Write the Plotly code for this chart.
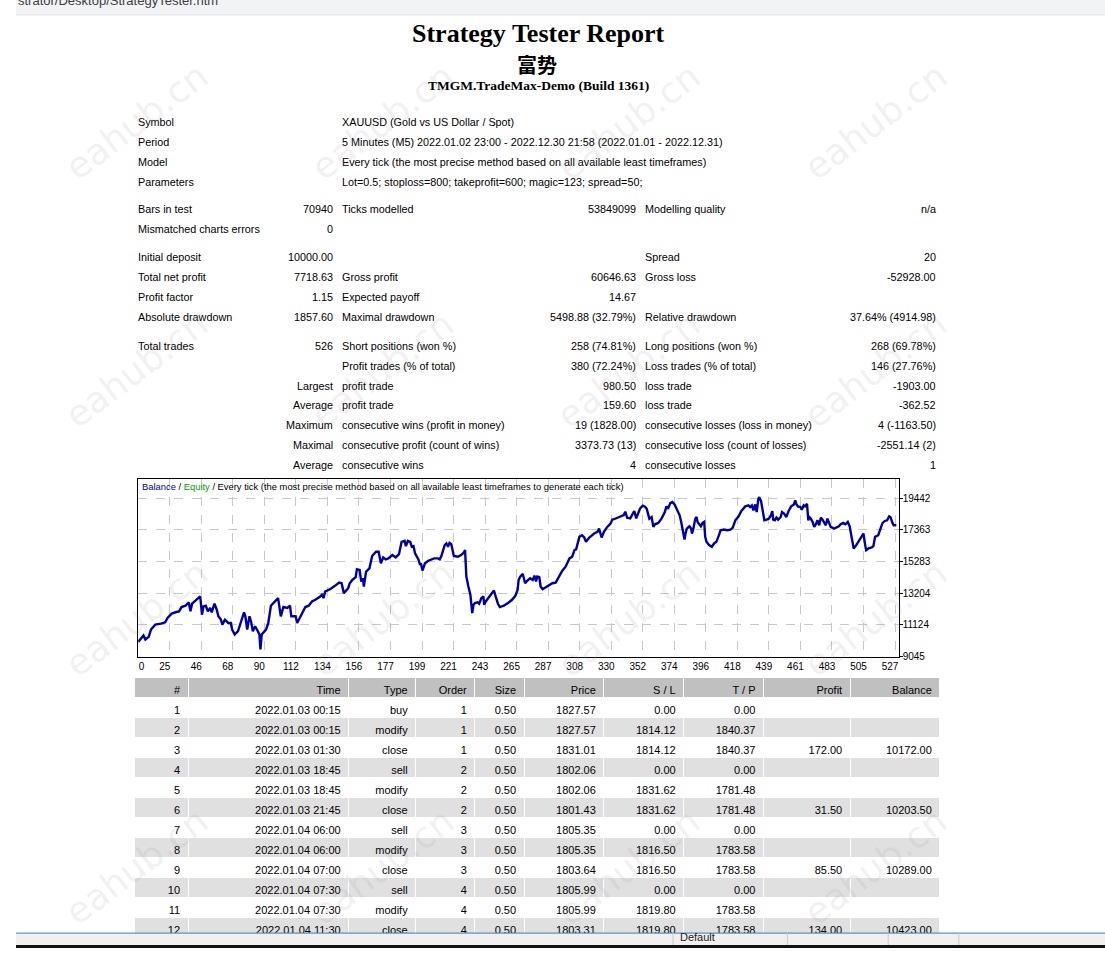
import plotly.graph_objects as go

W, H = 1105, 954

# ---------------- data ----------------
report_title = "Strategy Tester Report"
report_company = "富势"
report_server = "TMGM.TradeMax-Demo (Build 1361)"

info_labels = ["Symbol", "Period", "Model", "Parameters"]
info_values = [
    "XAUUSD (Gold vs US Dollar / Spot)",
    "5 Minutes (M5) 2022.01.02 23:00 - 2022.12.30 21:58 (2022.01.01 - 2022.12.31)",
    "Every tick (the most precise method based on all available least timeframes)",
    "Lot=0.5; stoploss=800; takeprofit=600; magic=123; spread=50;",
]

stat_rows = [
    ["Bars in test", "70940", "Ticks modelled", "53849099", "Modelling quality", "n/a"],
    ["Mismatched charts errors", "0", "", "", "", ""],
    ["Initial deposit", "10000.00", "", "", "Spread", "20"],
    ["Total net profit", "7718.63", "Gross profit", "60646.63", "Gross loss", "-52928.00"],
    ["Profit factor", "1.15", "Expected payoff", "14.67", "", ""],
    ["Absolute drawdown", "1857.60", "Maximal drawdown", "5498.88 (32.79%)", "Relative drawdown", "37.64% (4914.98)"],
    ["Total trades", "526", "Short positions (won %)", "258 (74.81%)", "Long positions (won %)", "268 (69.78%)"],
    ["", "", "Profit trades (% of total)", "380 (72.24%)", "Loss trades (% of total)", "146 (27.76%)"],
    ["", "Largest", "profit trade", "980.50", "loss trade", "-1903.00"],
    ["", "Average", "profit trade", "159.60", "loss trade", "-362.52"],
    ["", "Maximum", "consecutive wins (profit in money)", "19 (1828.00)", "consecutive losses (loss in money)", "4 (-1163.50)"],
    ["", "Maximal", "consecutive profit (count of wins)", "3373.73 (13)", "consecutive loss (count of losses)", "-2551.14 (2)"],
    ["", "Average", "consecutive wins", "4", "consecutive losses", "1"],
]

# balance curve (trade number, balance)
trade_idx = [
    0, 3.7, 5.0, 7.3, 8.9, 11.9, 15.8, 18.8, 20.4, 23.3, 26.5, 28.4, 30.2, 32.9, 35.2, 36.4, 37.5, 39.8,
    43.2, 44.4, 45.5, 47.1, 48.5, 50.1, 51.2, 53.1, 54.7, 55.8, 57.6, 58.6, 60.4, 62.7, 64.5, 65.4, 67.2,
    69.5, 71.8, 73.7, 74.6, 75.9, 77.5, 78.7, 79.8, 81.4, 83.3, 84.4, 85.1, 86.0, 89.0, 90.6, 92.4, 94.7,
    97.4, 99.3, 101.1, 103.8, 105.7, 106.6, 109.6, 110.7, 113.0, 115.3, 116.4, 118.7, 121.0, 123.3, 126.3,
    127.9, 129.0, 130.2, 133.6, 137.0, 139.9, 141.6, 143.2, 146.2, 147.3, 149.1, 151.4, 152.3, 154.2,
    155.3, 156.5, 157.1, 158.7, 161.0, 162.9, 165.6, 167.4, 169.0, 170.6, 172.4, 174.2, 177.0, 179.3,
    181.6, 183.4, 185.5, 186.4, 187.8, 189.4, 190.5, 191.7, 192.8, 194.0, 195.1, 196.3, 196.9, 197.9,
    199.7, 202.0, 204.3, 206.1, 208.8, 210.0, 211.1, 213.4, 214.6, 215.7, 216.8, 218.0, 219.8, 222.6,
    224.8, 226.7, 227.6, 228.5, 229.9, 231.3, 232.6, 233.5, 234.5, 236.3, 237.4, 239.0, 240.4, 240.9,
    242.0, 243.6, 245.4, 247.7, 248.9, 250.5, 251.8, 254.6, 258.0, 260.3, 262.6, 264.2, 264.9, 266.0,
    267.8, 269.4, 271.0, 272.9, 274.7, 275.9, 277.0, 277.9, 279.3, 280.2, 281.6, 283.9, 286.6, 288.4,
    290.7, 292.3, 293.5, 295.3, 297.6, 299.2, 300.3, 302.2, 303.8, 304.9, 306.0, 307.2, 309.0, 310.6,
    311.8, 314.1, 317.5, 319.8, 320.9, 322.7, 324.3, 326.6, 328.9, 330.1, 331.7, 333.5, 335.8, 338.1,
    339.2, 340.4, 342.6, 344.5, 345.4, 346.8, 348.4, 349.5, 351.3, 352.9, 354.1, 355.9, 357.5, 358.7,
    359.8, 362.1, 364.4, 366.7, 367.8, 368.9, 370.5, 371.9, 373.5, 375.1, 377.0, 378.1, 379.2, 380.4,
    381.1, 382.0, 383.8, 385.0, 385.6, 386.6, 387.9, 388.8, 389.5, 390.7, 391.8, 393.0, 394.1, 394.8,
    395.7, 397.5, 399.4, 401.0, 402.6, 404.4, 405.5, 407.8, 410.1, 412.4, 414.0, 415.8, 418.1, 420.0,
    421.6, 422.7, 425.0, 426.1, 427.3, 428.4, 429.6, 430.7, 431.8, 432.5, 433.7, 434.6, 435.3, 436.0,
    437.6, 439.2, 440.6, 441.5, 442.2, 443.3, 444.4, 445.6, 447.4, 448.3, 449.7, 451.3, 452.9, 454.7,
    456.6, 457.5, 458.2, 459.3, 461.1, 462.0, 463.4, 464.3, 465.7, 466.6, 467.3, 468.4, 469.6, 470.7,
    471.9, 473.0, 474.2, 475.3, 476.5, 477.6, 478.8, 479.9, 481.1, 482.2, 484.5, 486.3, 487.9, 489.1,
    490.9, 492.5, 494.1, 495.4, 496.4, 497.7, 498.2, 500.0, 501.6, 503.9, 505.0, 506.2, 506.9, 508.5,
    510.8, 511.9, 513.1, 515.3, 516.9, 518.3, 519.9, 521.5, 522.9, 523.8, 525.2, 526.1, 527.9,
]
balance = [
    10000, 10425, 10164, 10338, 10816, 11142, 11207, 11294, 11577, 11860, 11968, 12012, 12294, 12381,
    12598, 12012, 12512, 12729, 12990, 11794, 12338, 12381, 12012, 12229, 11946, 12512, 12120, 11686,
    11468, 11142, 11468, 11251, 11251, 10816, 10490, 10708, 11468, 11946, 11686, 10816, 11686, 11294,
    10708, 11034, 10708, 10490, 9512, 10490, 10816, 11251, 12381, 12598, 12881, 11686, 12294, 12229,
    12381, 11686, 11686, 11251, 11686, 12012, 12294, 12381, 12664, 12772, 12946, 13098, 12881, 13316,
    13468, 13685, 13902, 13859, 13207, 13533, 13859, 14076, 14250, 14772, 14728, 13968, 14185, 13642,
    14620, 14837, 15641, 15924, 15924, 15163, 15554, 15423, 15489, 15706, 15554, 15772, 16576, 16641,
    16293, 16641, 16576, 16250, 16293, 15815, 15598, 15423, 15054, 15163, 14685, 15163, 15337, 15423,
    15489, 15489, 15423, 15641, 16358, 16467, 16250, 16510, 16424, 15641, 15598, 15706, 15858, 16032,
    14294, 13642, 13098, 11903, 12446, 12555, 12598, 12512, 12881, 12990, 12446, 12664, 12881, 13098,
    13381, 12990, 12512, 12294, 12381, 12598, 12772, 13033, 13424, 14076, 14294, 14468, 13859, 14033,
    14185, 14076, 14359, 13968, 14294, 14250, 13642, 13468, 13598, 13750, 13859, 13902, 14185, 14402,
    14685, 14946, 15272, 15489, 15598, 16032, 16076, 16576, 16902, 17010, 16858, 16576, 16858, 17119,
    17228, 17445, 16858, 17228, 17554, 17771, 18032, 18075, 18162, 18227, 18336, 18553, 18162, 18119,
    18510, 18597, 18119, 18553, 18771, 18944, 18879, 18749, 18097, 18206, 17554, 17728, 17814, 18097,
    18532, 18901, 18749, 19118, 19184, 19032, 18683, 18314, 17880, 17228, 16728, 17119, 17445, 17597,
    17445, 17119, 17445, 18097, 18206, 17880, 17728, 17597, 17814, 17880, 16902, 16576, 16358, 16250,
    16467, 16576, 17010, 17336, 17379, 17336, 17379, 17510, 17988, 18249, 18597, 18814, 18901, 18966,
    18858, 18966, 18640, 19032, 18532, 19401, 19510, 19249, 18749, 18314, 17988, 18032, 18097, 18314,
    18597, 18032, 17988, 18162, 18032, 18206, 18532, 18423, 18206, 18597, 18901, 19032, 19292, 19075,
    18901, 18858, 18683, 18966, 18901, 19075, 17988, 18206, 18097, 17880, 17554, 17728, 17988, 17662,
    18162, 18032, 17880, 17662, 18097, 17771, 17554, 17445, 17554, 17597, 17728, 17814, 17728, 17880,
    17597, 17119, 16467, 16141, 16358, 16576, 16902, 17119, 16358, 16032, 16141, 16206, 16293, 16902,
    17010, 17445, 17814, 17945, 17988, 18249, 18206, 17814, 17662, 17662,
]

x_tick_labels = ["0", "25", "46", "68", "90", "112", "134", "156", "177", "199", "221", "243", "265",
                 "287", "308", "330", "352", "374", "396", "418", "439", "461", "483", "505", "527"]
x_last_tick = 527
y_ticks = [9045, 11124, 13204, 15283, 17363, 19442]

table_header = ["#", "Time", "Type", "Order", "Size", "Price", "S / L", "T / P", "Profit", "Balance"]
trade_no = [1, 2, 3, 4, 5, 6, 7, 8, 9, 10, 11, 12]
trade_time = ["2022.01.03 00:15", "2022.01.03 00:15", "2022.01.03 01:30", "2022.01.03 18:45",
              "2022.01.03 18:45", "2022.01.03 21:45", "2022.01.04 06:00", "2022.01.04 06:00",
              "2022.01.04 07:00", "2022.01.04 07:30", "2022.01.04 07:30", "2022.01.04 11:30"]
trade_type = ["buy", "modify", "close", "sell", "modify", "close", "sell", "modify", "close", "sell", "modify", "close"]
trade_order = [1, 1, 1, 2, 2, 2, 3, 3, 3, 4, 4, 4]
trade_size = ["0.50"] * 12
trade_price = ["1827.57", "1827.57", "1831.01", "1802.06", "1802.06", "1801.43",
               "1805.35", "1805.35", "1803.64", "1805.99", "1805.99", "1803.31"]
trade_sl = ["0.00", "1814.12", "1814.12", "0.00", "1831.62", "1831.62",
            "0.00", "1816.50", "1816.50", "0.00", "1819.80", "1819.80"]
trade_tp = ["0.00", "1840.37", "1840.37", "0.00", "1781.48", "1781.48",
            "0.00", "1783.58", "1783.58", "0.00", "1783.58", "1783.58"]
trade_profit = ["", "", "172.00", "", "", "31.50", "", "", "85.50", "", "", "134.00"]
trade_balance = ["", "", "10172.00", "", "", "10203.50", "", "", "10289.00", "", "", "10423.00"]

# ---------------- layout helpers ----------------
BODY = "Liberation Sans, Arial, sans-serif"
SERIF = "Liberation Serif, Times New Roman, serif"


def px(x):
    return x / W


def py(y):
    return 1 - y / H


annotations = []
shapes = []


def text(x, y, s, anchor="left", size=10.8, family=BODY, color="black"):
    annotations.append(dict(x=px(x), y=py(y), xref="paper", yref="paper", text=s, showarrow=False,
                            xanchor=anchor, yanchor="middle", font=dict(size=size, family=family, color=color)))


# browser chrome at top
shapes.append(dict(type="rect", xref="paper", yref="paper", x0=0, x1=1, y0=py(14), y1=1,
                   fillcolor="#F1F3F4", line=dict(width=0), layer="below"))
shapes.append(dict(type="line", xref="paper", yref="paper", x0=0, x1=1, y0=py(15), y1=py(15),
                   line=dict(color="#DADCE0", width=1)))
text(0, 1, "strator/Desktop/StrategyTester.htm", size=13, color="#3C4043")

# headings
text(530, 34, "<b>" + report_title + "</b>", anchor="center", size=26, family=SERIF)
text(529, 65, "<b>" + report_company + "</b>", anchor="center", size=20, family="Noto Sans CJK SC")
text(530, 86, "<b>" + report_server + "</b>", anchor="center", size=13.5, family=SERIF)

# summary block
info_y = [123, 143, 163, 183]
for yy, lab, val in zip(info_y, info_labels, info_values):
    text(122, yy, lab)
    text(329, yy, val)

stat_y = [210, 230, 259, 279, 299, 319, 348, 368, 388, 408, 428, 448, 468]
col_x = [122, 324, 329, 631, 636, 936]
col_anchor = ["left", "right", "left", "right", "left", "right"]
for yy, row in zip(stat_y, stat_rows):
    for cx, ca, cell in zip(col_x, col_anchor, row):
        if cell:
            text(cx, yy, cell, anchor=ca)

# chart legend line
text(126, 490, '<span style="color:#0000AA">Balance</span> / <span style="color:#00A000">Equity</span> / '
     'Every tick (the most precise method based on all available least timeframes to generate each tick)',
     size=9.4)

# status bar at bottom
shapes.append(dict(type="rect", xref="paper", yref="paper", x0=0, x1=1, y0=py(951), y1=py(939),
                   fillcolor="#F0F0F0", line=dict(width=0), layer="above"))
shapes.append(dict(type="rect", xref="paper", yref="paper", x0=0, x1=1, y0=0, y1=py(951),
                   fillcolor="#111111", line=dict(width=0), layer="above"))
shapes.append(dict(type="line", xref="paper", yref="paper", x0=0, x1=1, y0=py(939), y1=py(939),
                   line=dict(color="#3C7FB1", width=1), layer="above"))
for sx in [666.7, 782.7, 885, 956.7]:
    shapes.append(dict(type="line", xref="paper", yref="paper", x0=px(sx), x1=px(sx), y0=py(951), y1=py(939),
                       line=dict(color="#C8C8C8", width=1), layer="above"))
text(672, 943, "Default", size=11, color="#222222")

# watermarks (the right-hand column is cut by the window edge, as in the screenshot)
for wy in [122, 372, 622, 872]:
    for wx in [122, 372, 622, 872, 1100]:
        annotations.append(dict(x=px(wx), y=py(wy), xref="paper", yref="paper", text="eahub.cn",
                                showarrow=False, textangle=-37,
                                xanchor="left" if wx > W - 20 else "center", yanchor="middle",
                                font=dict(size=36, family="DejaVu Sans", color="rgba(150,150,150,0.15)")))

# ---------------- figure ----------------
fig = go.Figure()

fig.add_trace(go.Scatter(x=trade_idx, y=balance, mode="lines", name="Balance",
                         line=dict(color="#0000AA", width=2.4), hoverinfo="skip"))

row_fill = ["white" if n % 2 else "#E0E0E0" for n in trade_no]
fig.add_trace(go.Table(
    domain=dict(x=[px(120.6), px(938)], y=[py(942), py(682)]),
    columnwidth=[54, 163, 68, 60, 50, 81, 81, 81, 88, 91],
    header=dict(values=table_header, fill_color="#C0C0C0", align="right", height=20,
                line=dict(color="white", width=1), font=dict(family=BODY, size=11, color="black")),
    cells=dict(values=[trade_no, trade_time, trade_type, trade_order, trade_size, trade_price,
                       trade_sl, trade_tp, trade_profit, trade_balance],
               fill_color=[row_fill], align="right", height=20,
               line=dict(color="white", width=1), font=dict(family=BODY, size=11, color="black")),
))

# MT4 draws its first x label just inside the frame; pad it with no-break spaces so it sits there too
x_tick_text = ["\u00a0" * 6 + x_tick_labels[0]] + x_tick_labels[1:]
tick_step = x_last_tick / (len(x_tick_labels) - 1)
fig.update_layout(
    width=W, height=H, margin=dict(l=0, r=0, t=0, b=0),
    paper_bgcolor="white", plot_bgcolor="white", showlegend=False,
    annotations=annotations, shapes=shapes,
    xaxis=dict(domain=[px(124), px(895.6)], range=[0, 529.5], tickvals=[i * tick_step for i in range(len(x_tick_labels))],
               ticktext=x_tick_text, showgrid=True, gridcolor="#C8C8C8", griddash="dash", gridwidth=1,
               showline=True, mirror=True, linecolor="black", linewidth=1, zeroline=False, ticks="",
               ticklabelshift=-5, tickfont=dict(family=BODY, size=10, color="black"), fixedrange=True),
    yaxis=dict(domain=[py(660.7), py(482.3)], range=[9045, 20682], side="right", tickvals=y_ticks,
               ticktext=[str(v) for v in y_ticks], showgrid=True, gridcolor="#C8C8C8", griddash="dash",
               gridwidth=1, showline=True, mirror=True, linecolor="black", linewidth=1, zeroline=False,
               ticks="outside", ticklen=3, tickcolor="black", ticklabelstandoff=-2,
               tickfont=dict(family=BODY, size=10, color="black"), fixedrange=True),
)

# pin the 1105x954 figure to the window's top-left corner with nothing to scroll
pin = ("document.documentElement.style.overflow='hidden';"
       "document.body.style.margin='0';document.body.style.overflow='hidden';"
       "var g=document.querySelector('.plotly-graph-div');"
       "g.style.position='fixed';g.style.left='0px';g.style.top='0px';")
fig.write_html("out.html", config={"displayModeBar": False, "responsive": False}, post_script=pin)
